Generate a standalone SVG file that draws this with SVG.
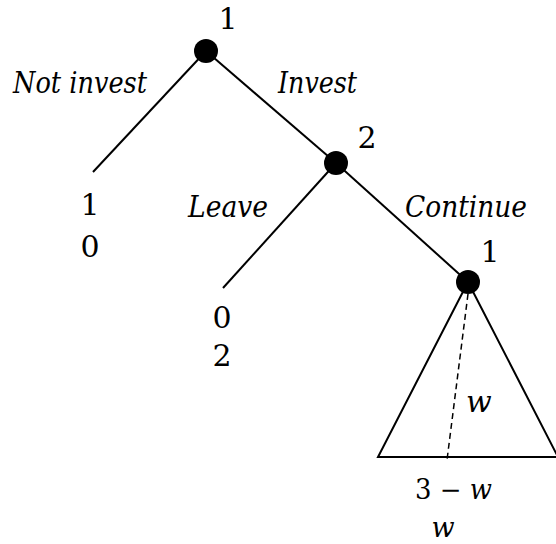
<svg xmlns="http://www.w3.org/2000/svg" width="556" height="544" viewBox="0 0 556 544">
<style>
.e{stroke:#000;stroke-width:2;fill:none}
.d{stroke:#000;stroke-width:1.5;fill:none;stroke-dasharray:6,4}
.n{fill:#000}
.t{font-family:'DejaVu Serif','Liberation Serif',serif;font-size:30px;fill:#000}
.b{font-size:27px}
.i{font-style:italic}
</style>
<rect width="556" height="544" fill="#fff"/>
<g id="connectors">
<line class="e" x1="206" y1="51" x2="93" y2="172"/>
<line class="e" x1="206" y1="51" x2="336" y2="163"/>
<line class="e" x1="336" y1="163" x2="223" y2="288"/>
<line class="e" x1="336" y1="163" x2="468" y2="282"/>
<polygon class="e" points="468,282 378,457 558,457"/>
<line class="d" x1="468" y1="294" x2="447" y2="460"/>
</g>
<g id="node1"><circle class="n" cx="206" cy="51" r="12"/><text class="t" x="228" y="29" text-anchor="middle">1</text></g>
<g id="node2"><circle class="n" cx="336" cy="163" r="12"/><text class="t" x="367" y="148" text-anchor="middle">2</text></g>
<g id="node3"><circle class="n" cx="468" cy="282" r="12"/><text class="t" x="490" y="262" text-anchor="middle">1</text></g>
<g id="labels">
<text class="t i" x="13" y="93" textLength="134" lengthAdjust="spacingAndGlyphs">Not invest</text>
<text class="t i" x="278" y="93" textLength="79" lengthAdjust="spacingAndGlyphs">Invest</text>
<text class="t i" x="188" y="217" textLength="80" lengthAdjust="spacingAndGlyphs">Leave</text>
<text class="t i" x="405" y="217" textLength="122" lengthAdjust="spacingAndGlyphs">Continue</text>
<text class="t i" x="466" y="412">w</text>
</g>
<g id="payoff1"><text class="t" x="90" y="215" text-anchor="middle">1</text><text class="t" x="90" y="257" text-anchor="middle">0</text></g>
<g id="payoff2"><text class="t" x="222" y="328" text-anchor="middle">0</text><text class="t" x="222" y="366" text-anchor="middle">2</text></g>
<g id="payoff3"><text class="t b" x="415" y="499" textLength="77" lengthAdjust="spacingAndGlyphs">3 − <tspan class="i">w</tspan></text><text class="t b i" x="443" y="537" text-anchor="middle">w</text></g>
</svg>
